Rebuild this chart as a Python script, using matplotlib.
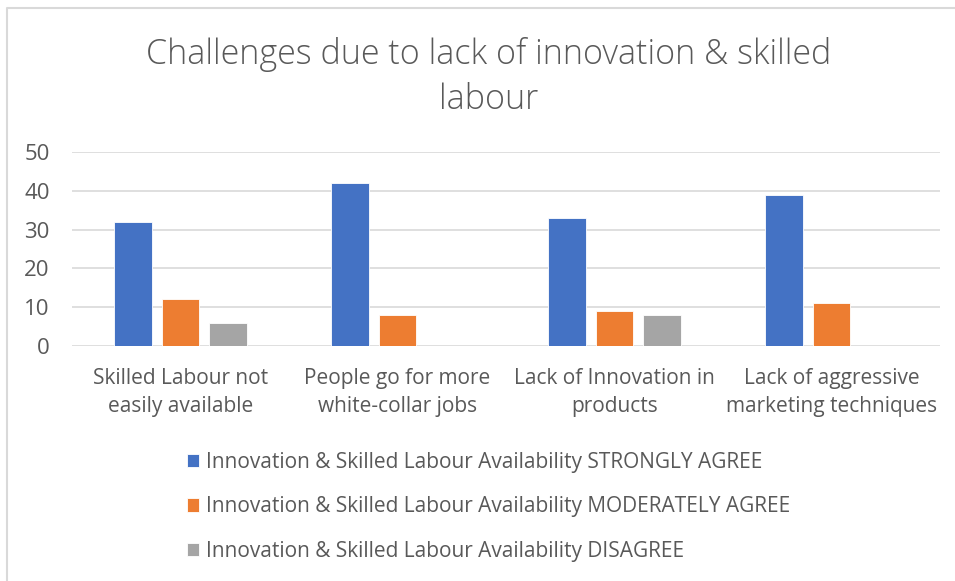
import numpy as np
import matplotlib.pyplot as plt
from matplotlib.lines import Line2D

# chart data
categories = ["Skilled Labour not\neasily available",
              "People go for more\nwhite-collar jobs",
              "Lack of Innovation in\nproducts",
              "Lack of aggressive\nmarketing techniques"]
strongly_agree = [32, 42, 33, 39]
moderately_agree = [12, 8, 9, 11]
disagree = [6, 0, 8, 0]
series_names = ["Innovation & Skilled Labour Availability STRONGLY AGREE",
                "Innovation & Skilled Labour Availability MODERATELY AGREE",
                "Innovation & Skilled Labour Availability DISAGREE"]
y_ticks = [0, 10, 20, 30, 40, 50]

colors = ['#4472C4', '#ED7D31', '#A5A5A5']
text_col = '#595959'
plt.rcParams['font.family'] = ['Open Sans', 'DejaVu Sans']

fig = plt.figure(figsize=(9.55, 5.81), dpi=100)
# chart frame: only left and top edges show in the reference
fig.lines.append(Line2D([7 / 955, 7 / 955, 1], [0, 1 - 8 / 581, 1 - 8 / 581],
                        transform=fig.transFigure, color='#D9D9D9', linewidth=1.5))

ax = fig.add_axes([72 / 955, 1 - 346 / 581, 868 / 955, 194 / 581])
x = np.arange(len(categories))
w = 0.175
step = 0.22
for i, vals in enumerate([strongly_agree, moderately_agree, disagree]):
    ax.bar(x + (i - 1) * step, vals, width=w, color=colors[i],
           label=series_names[i], edgecolor='white', linewidth=0.6, zorder=3)

ax.set_xlim(-0.5, len(categories) - 0.5)
ax.set_ylim(0, 50)
ax.set_yticks(y_ticks)
ax.set_yticklabels([str(t) for t in y_ticks], fontsize=16, color=text_col)
ax.set_xticks(x)
ax.set_xticklabels(categories, fontsize=15, color=text_col, linespacing=1.45)
ax.tick_params(axis='both', length=0)
ax.tick_params(axis='y', pad=16)
ax.tick_params(axis='x', pad=16)
ax.grid(axis='y', color='#D9D9D9', linewidth=1.2, zorder=0)
for s in ax.spines.values():
    s.set_visible(False)

fig.text(489 / 955, 1 - 77 / 581,
         "Challenges due to lack of innovation & skilled\nlabour",
         ha='center', va='center', fontsize=24.5, color=text_col,
         fontweight='light', linespacing=1.4)

fig.legend(loc='upper left', bbox_to_anchor=(168 / 955, 1 - 433 / 581),
           frameon=False, fontsize=15, labelcolor=text_col,
           handlelength=0.6, handleheight=0.6, handletextpad=0.3,
           labelspacing=1.13)

fig.savefig('out.png', dpi=100)
